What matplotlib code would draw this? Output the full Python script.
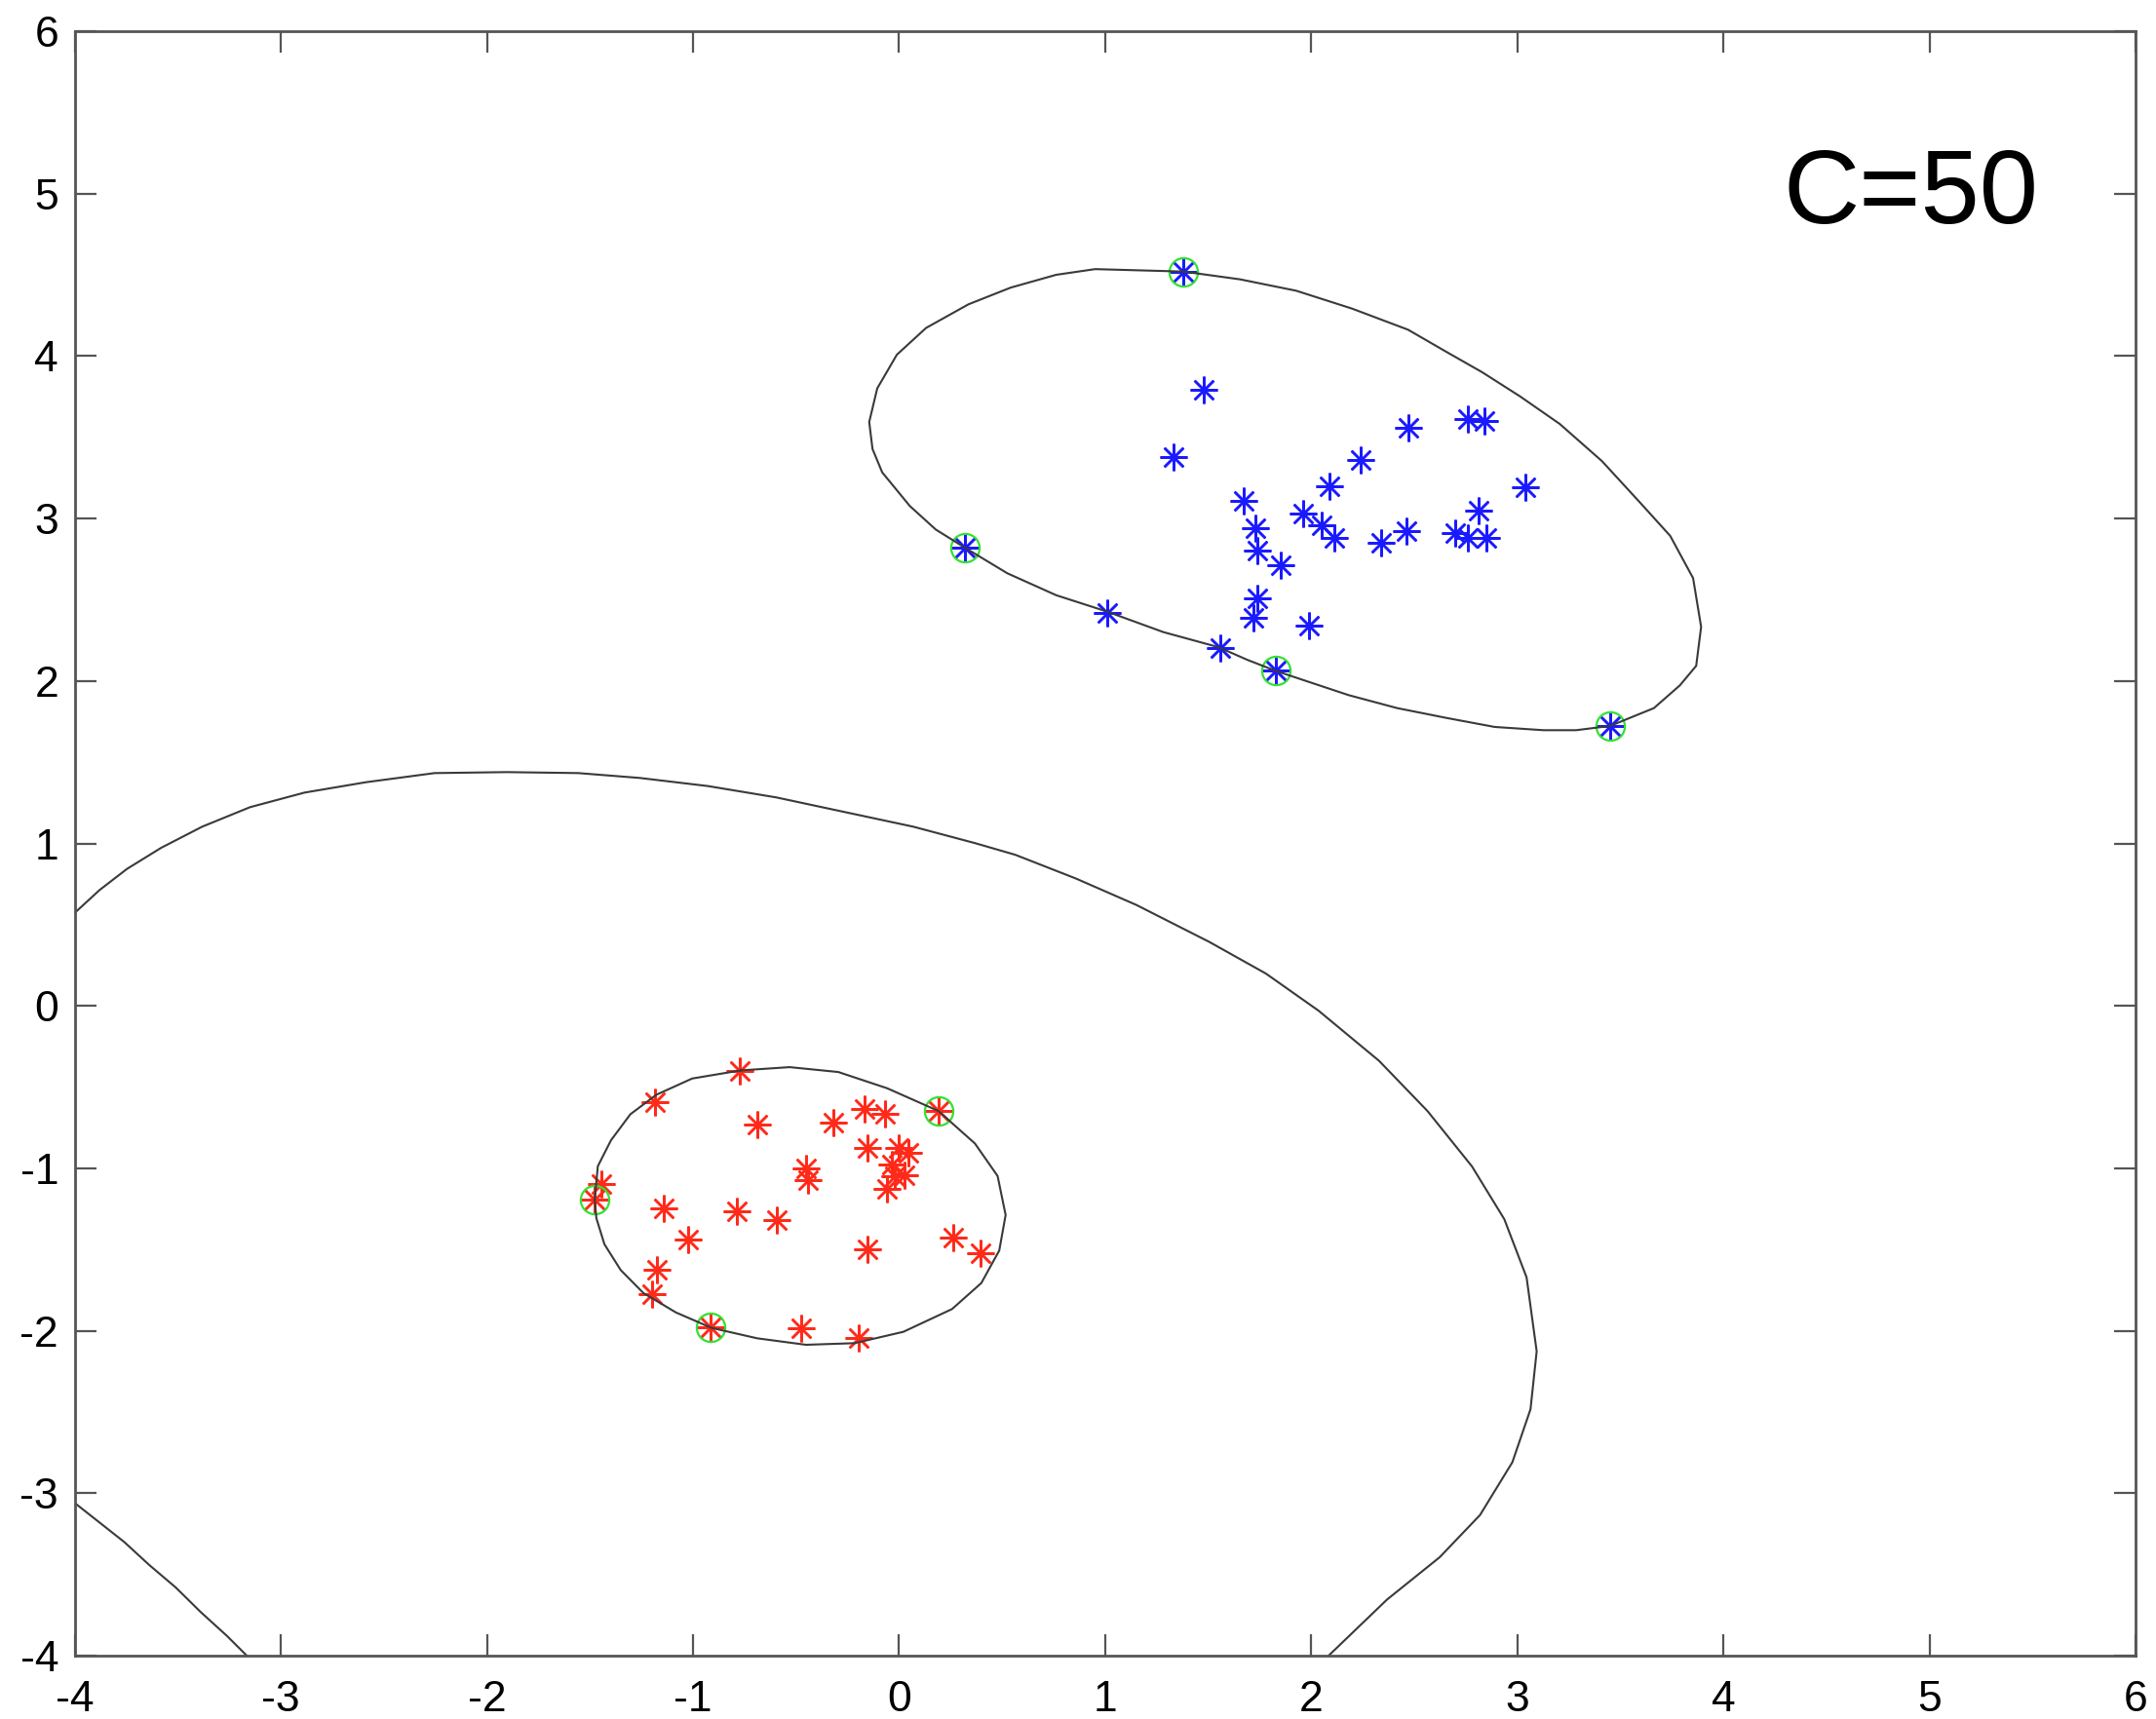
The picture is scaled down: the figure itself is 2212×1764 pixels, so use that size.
import matplotlib
matplotlib.use("Agg")
import matplotlib.pyplot as plt

plt.rcParams['font.family'] = ['Liberation Sans', 'DejaVu Sans']

# class +1 (blue) samples
blue_x = [1.38, 1.48, 1.33, 2.47, 2.76, 2.84, 2.24, 2.09, 3.04, 1.67,
          1.96, 2.81, 1.73, 2.05, 2.11, 2.46, 2.34, 2.70, 2.76, 2.85,
          1.74, 1.85, 1.74, 1.72, 1.99, 1.01, 1.56, 1.826, 3.45, 0.32]
blue_y = [4.52, 3.79, 3.38, 3.56, 3.61, 3.60, 3.36, 3.20, 3.19, 3.11,
          3.03, 3.05, 2.94, 2.96, 2.88, 2.92, 2.85, 2.91, 2.88, 2.88,
          2.80, 2.71, 2.51, 2.39, 2.34, 2.42, 2.20, 2.063, 1.723, 2.82]

# class -1 (red) samples
red_x = [-0.772, -1.185, -0.689, -0.317, -0.166, -0.066, 0.194, -0.153, -0.003, 0.044,
         -0.034, 0.028, -0.019, -0.058, -0.452, -0.444, -1.446, -1.477, -1.141, -0.787,
         -0.594, -1.025, -1.175, -1.197, -0.914, -0.473, -0.195, -0.153, 0.265, 0.396]
red_y = [-0.40, -0.59, -0.73, -0.717, -0.637, -0.663, -0.647, -0.876, -0.876, -0.903,
         -0.977, -1.043, -1.05, -1.127, -1.002, -1.071, -1.097, -1.19, -1.247, -1.263,
         -1.32, -1.437, -1.626, -1.776, -1.98, -1.982, -2.043, -1.497, -1.427, -1.523]

# support vectors
sv_x = [1.38, 0.32, 1.826, 3.45, 0.194, -1.477, -0.914]
sv_y = [4.52, 2.82, 2.063, 1.723, -0.647, -1.19, -1.98]

# margin contour around blue class
pos_cx = [1.38, 0.951, 0.762, 0.541, 0.336, 0.131, -0.011, -0.106, -0.145, -0.129,
          -0.082, 0.052, 0.178, 0.32, 0.525, 0.762, 1.014, 1.282, 1.55, 1.69,
          1.826, 1.944, 2.181, 2.417, 2.654, 2.89, 3.127, 3.285, 3.45, 3.663,
          3.789, 3.868, 3.892, 3.853, 3.742, 3.6, 3.411, 3.206, 3.013, 2.83,
          2.65, 2.47, 2.198, 1.927, 1.655, 1.38]
pos_cy = [4.52, 4.535, 4.50, 4.421, 4.318, 4.173, 4.008, 3.801, 3.594, 3.428,
          3.284, 3.077, 2.932, 2.82, 2.663, 2.528, 2.425, 2.301, 2.208, 2.13,
          2.063, 2.013, 1.913, 1.833, 1.773, 1.717, 1.697, 1.697, 1.723, 1.833,
          1.973, 2.093, 2.333, 2.633, 2.893, 3.092, 3.353, 3.582, 3.752, 3.90,
          4.03, 4.162, 4.292, 4.402, 4.472, 4.52]

# margin contour around red class
neg_cx = [-0.768, -0.531, -0.295, -0.058, 0.191, 0.368, 0.478, 0.517, 0.486, 0.399,
          0.257, 0.021, -0.216, -0.452, -0.689, -0.91, -1.083, -1.241, -1.351, -1.43,
          -1.469, -1.477, -1.462, -1.398, -1.304, -1.178, -1.004, -0.768]
neg_cy = [-0.397, -0.377, -0.407, -0.507, -0.647, -0.847, -1.047, -1.287, -1.506, -1.706,
          -1.866, -2.006, -2.076, -2.086, -2.046, -1.982, -1.887, -1.767, -1.626, -1.467,
          -1.307, -1.19, -0.987, -0.827, -0.667, -0.547, -0.447, -0.397]

# decision boundary, upper piece
dec1_x = [-4.0, -3.88, -3.747, -3.581, -3.382, -3.15, -2.885, -2.586, -2.254, -1.905,
          -1.557, -1.258, -0.927, -0.595, -0.263, 0.069, 0.368, 0.564, 0.858, 1.152,
          1.505, 1.78, 2.035, 2.329, 2.564, 2.78, 2.937, 3.045, 3.094, 3.064,
          2.976, 2.819, 2.623, 2.368, 2.084]
dec1_y = [0.573, 0.713, 0.843, 0.973, 1.103, 1.223, 1.313, 1.377, 1.433, 1.439,
          1.433, 1.403, 1.353, 1.283, 1.193, 1.103, 1.002, 0.93, 0.784, 0.621,
          0.394, 0.199, -0.029, -0.338, -0.647, -0.988, -1.313, -1.671, -2.126, -2.483,
          -2.809, -3.134, -3.394, -3.654, -4.0]

# decision boundary, lower-left corner piece
dec2_x = [-4.0, -3.89, -3.76, -3.64, -3.51, -3.39, -3.26, -3.165]
dec2_y = [-3.06, -3.17, -3.30, -3.44, -3.58, -3.73, -3.88, -4.0]

xticks = [-4, -3, -2, -1, 0, 1, 2, 3, 4, 5, 6]
yticks = [-4, -3, -2, -1, 0, 1, 2, 3, 4, 5, 6]

fig = plt.figure(figsize=(11.06, 8.82), dpi=200)
ax = fig.add_axes([0.0347, 0.0368, 0.9558, 0.9451])

star = (8, 2, 0)
ax.plot(blue_x, blue_y, ls='none', marker=star, ms=10, mew=0.9, color='#1a1aff')
ax.plot(red_x, red_y, ls='none', marker=star, ms=10, mew=0.9, color='#ff2a1a')
ax.plot(sv_x, sv_y, ls='none', marker='o', ms=10.5, mfc='none', mec='#33e033', mew=0.8)

cc = '#3a3a3a'
ax.plot(pos_cx, pos_cy, color=cc, lw=0.75)
ax.plot(neg_cx, neg_cy, color=cc, lw=0.75)
ax.plot(dec1_x, dec1_y, color=cc, lw=0.75)
ax.plot(dec2_x, dec2_y, color=cc, lw=0.75)

ax.text(4.91, 4.82, 'C=50', fontsize=39, ha='center', va='baseline')

ax.set_xlim(-4, 6)
ax.set_ylim(-4, 6)
ax.set_xticks(xticks)
ax.set_yticks(yticks)
ax.set_xticklabels([str(t) for t in xticks])
ax.set_yticklabels([str(t) for t in yticks])
ax.tick_params(direction='in', length=8, width=0.8, color='#555555',
               labelsize=16, top=True, right=True)
ax.tick_params(axis='x', pad=9)
ax.tick_params(axis='y', pad=6)
for s in ax.spines.values():
    s.set_color('#555555')
    s.set_linewidth(1.0)

fig.savefig('out.png', dpi=200)
